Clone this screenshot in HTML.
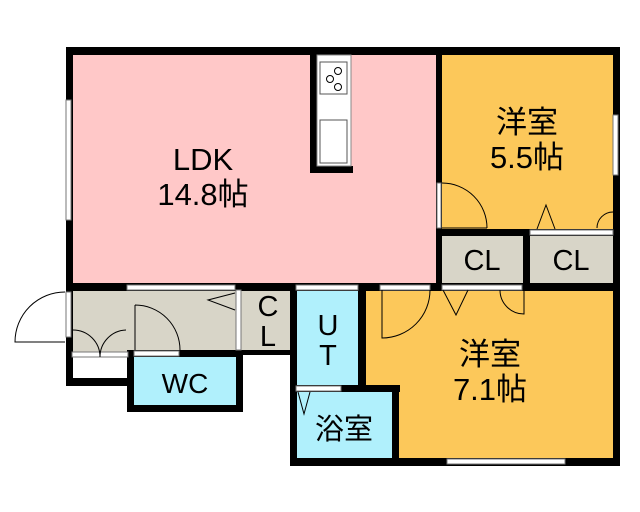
<!DOCTYPE html>
<html><head><meta charset="utf-8"><style>
html,body{margin:0;padding:0;background:#fff;width:640px;height:512px;overflow:hidden}
svg text{font-family:"Liberation Sans","Noto Sans CJK JP",sans-serif;fill:#000}
</style></head><body>
<svg width="640" height="512" viewBox="0 0 640 512" xmlns="http://www.w3.org/2000/svg">
<!-- fills -->
<rect x="66" y="47" width="376" height="243" fill="#ffc8c8"/>
<rect x="441" y="54" width="172" height="176" fill="#fcc85a"/>
<rect x="441" y="236" width="172" height="48" fill="#d8d5c8"/>
<rect x="72" y="290" width="224" height="62" fill="#d8d5c8"/>
<rect x="72" y="352" width="56" height="28" fill="#fff"/>
<rect x="134" y="356" width="102" height="50" fill="#b0f0fc"/>
<rect x="366" y="290" width="248" height="170" fill="#fcc85a"/>
<rect x="296" y="290" width="64" height="100" fill="#b0f0fc"/>
<rect x="296" y="390" width="98" height="70" fill="#b0f0fc"/>
<!-- walls -->
<g fill="#000">
<rect x="66" y="47" width="554" height="8"/>
<rect x="66" y="47" width="7" height="243"/>
<rect x="613" y="47" width="7" height="419"/>
<rect x="436" y="47" width="6" height="243"/>
<rect x="66" y="283" width="554" height="8"/>
<rect x="436" y="229" width="184" height="7"/>
<rect x="523" y="229" width="7" height="58"/>
<rect x="310" y="47" width="7" height="126"/>
<rect x="310" y="166" width="43" height="7"/>
<rect x="66" y="283" width="7" height="103"/>
<rect x="66" y="378" width="68" height="8"/>
<rect x="127" y="350" width="7" height="62"/>
<rect x="127" y="350" width="116" height="7"/>
<rect x="236" y="350" width="7" height="62"/>
<rect x="127" y="405" width="116" height="7"/>
<rect x="236" y="350" width="60" height="5"/>
<rect x="290" y="283" width="7" height="183"/>
<rect x="358" y="283" width="8" height="107"/>
<rect x="290" y="385" width="110" height="7"/>
<rect x="392" y="385" width="7" height="81"/>
<rect x="290" y="458" width="330" height="8"/>
</g>
<!-- counter -->
<rect x="317" y="55" width="34" height="111" fill="#fff" stroke="#888"/>
<rect x="320" y="62" width="27" height="32" fill="#fff" stroke="#555"/>
<circle cx="338" cy="71" r="3.5" fill="none" stroke="#000"/><circle cx="330" cy="79" r="3.5" fill="none" stroke="#000"/><circle cx="338" cy="87" r="3.5" fill="none" stroke="#000"/>
<rect x="320" y="120" width="27" height="43" fill="#fff" stroke="#555"/>
<!-- windows -->
<g fill="#fff" stroke="#777" stroke-width="1">
<rect x="66" y="100" width="5" height="120"/>
<rect x="613" y="115" width="5" height="60"/>
<rect x="437" y="183" width="4" height="45"/>
<rect x="530" y="230" width="83" height="5"/>
<rect x="66" y="292" width="5" height="45"/>
<rect x="127" y="285" width="108" height="5"/>
<rect x="296" y="285" width="62" height="5"/>
<rect x="380" y="285" width="50" height="5"/>
<rect x="442" y="285" width="80" height="5"/>
<rect x="134" y="351" width="45" height="5"/>
<rect x="296" y="386" width="45" height="5"/>
<rect x="447" y="459" width="118" height="5"/>
<rect x="236" y="290" width="5" height="60"/>
<rect x="72" y="352" width="56" height="5"/>
</g>
<!-- door arcs -->
<g fill="none" stroke="#000" stroke-width="1">
<path d="M442 183 A45 45 0 0 1 487 228 M442 228 H487"/>
<path d="M597 228 A16 16 0 0 1 613 212"/>
<path d="M537 229 L546 205 L555 229"/>
<path d="M65 292 A50 50 0 0 0 15 342 H65"/>
<path d="M73 330 A27 27 0 0 1 100 357 A27 27 0 0 1 126 330"/>
<path d="M135 305 A45 45 0 0 1 180 350 M135 305 V350"/>
<path d="M235 293 L208 300 L235 310"/>
<path d="M382 290 V338 A48 48 0 0 0 430 290"/>
<path d="M443 290 L456 315 L468 290"/>
<path d="M500 290 A24 24 0 0 0 524 314 V290"/>
<path d="M298 392 L304 414 L310 392"/>
</g>
<!-- labels -->
<text x="203" y="170" font-size="31" text-anchor="middle">LDK</text>
<text x="203" y="205" font-size="31" text-anchor="middle">14.8帖</text>
<text x="527" y="133" font-size="31" text-anchor="middle">洋室</text>
<text x="527" y="168" font-size="31" text-anchor="middle">5.5帖</text>
<text x="482" y="270" font-size="29" text-anchor="middle">CL</text>
<text x="571" y="270" font-size="29" text-anchor="middle">CL</text>
<text x="268" y="316" font-size="29" text-anchor="middle">C</text>
<text x="268" y="346" font-size="29" text-anchor="middle">L</text>
<text x="328" y="335" font-size="29" text-anchor="middle">U</text>
<text x="328" y="365" font-size="29" text-anchor="middle">T</text>
<text x="185" y="393" font-size="28" text-anchor="middle">WC</text>
<text x="344" y="439" font-size="29" text-anchor="middle">浴室</text>
<text x="490" y="365" font-size="31" text-anchor="middle">洋室</text>
<text x="490" y="400" font-size="31" text-anchor="middle">7.1帖</text>
</svg>
</body></html>
